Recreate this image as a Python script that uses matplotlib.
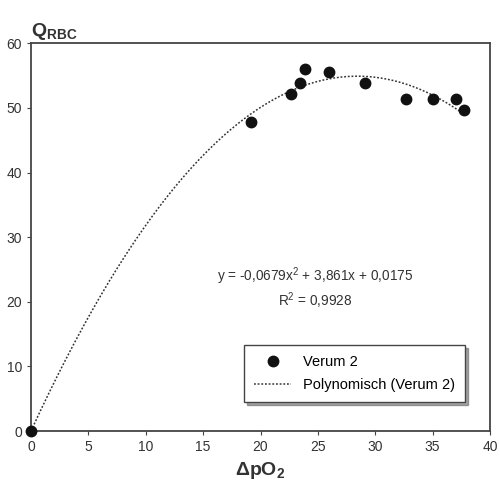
import numpy as np
import matplotlib.pyplot as plt

plt.rcParams['font.family'] = ['Liberation Sans', 'DejaVu Sans']
plt.rcParams['mathtext.fontset'] = 'custom'
plt.rcParams['mathtext.rm'] = 'Liberation Sans'
plt.rcParams['mathtext.it'] = 'Liberation Sans:italic'
plt.rcParams['mathtext.bf'] = 'Liberation Sans:bold'

# measured points (Verum 2)
dpo2 = [0, 19.2, 22.7, 23.4, 23.9, 26.0, 29.1, 32.7, 35.0, 37.0, 37.7]
qrbc = [0, 47.8, 52.2, 53.8, 56.0, 55.5, 53.9, 51.3, 51.3, 51.4, 49.6]

# trendline coefficients from the chart
coef = [-0.0679, 3.861, 0.0175]

fig = plt.figure(figsize=(5.0, 4.86), dpi=100)
ax = fig.add_axes([0.062, 0.113, 0.918, 0.798])

xs = np.linspace(0, max(dpo2), 200)
ax.plot(xs, np.polyval(coef, xs), ls=(0, (1.2, 1.2)), color='#333333', lw=1.1,
        label='Polynomisch (Verum 2)')
ax.plot(dpo2, qrbc, 'o', color='#111111', ms=7.5, ls='none', label='Verum 2',
        clip_on=False, zorder=5)

ax.set_xlim(0, 40)
ax.set_ylim(0, 60)
ax.set_xticks(range(0, 41, 5))
ax.set_yticks(range(0, 61, 10))
for s in ax.spines.values():
    s.set_color('#444444')
    s.set_linewidth(1.3)
ax.tick_params(colors='#444444', labelcolor='#333333', labelsize=10, length=3)

ax.text(0.619, 0.369, 'y = -0,0679x$^2$ + 3,861x + 0,0175\nR$^2$ = 0,9928',
        transform=ax.transAxes, ha='center', va='center', fontsize=9.8,
        color='#333333', linespacing=1.25)

h, l = ax.get_legend_handles_labels()
leg = ax.legend(h[::-1], l[::-1], loc='lower right', bbox_to_anchor=(0.945, 0.075),
                borderaxespad=0, fontsize=10.5, frameon=True, fancybox=False,
                shadow=True, borderpad=0.7, handlelength=2.5, labelspacing=0.6)
leg.get_frame().set_edgecolor('#444444')
leg.get_frame().set_linewidth(1.0)

fig.text(0.062, 0.935, r'Q$_{\mathbf{RBC}}$', fontsize=14, fontweight='bold',
         color='#333333', ha='left', va='center')
ax.set_xlabel(r'ΔpO$_{\mathbf{2}}$', fontsize=14, fontweight='bold', color='#333333',
              labelpad=4)

fig.savefig('out.png', dpi=100)
